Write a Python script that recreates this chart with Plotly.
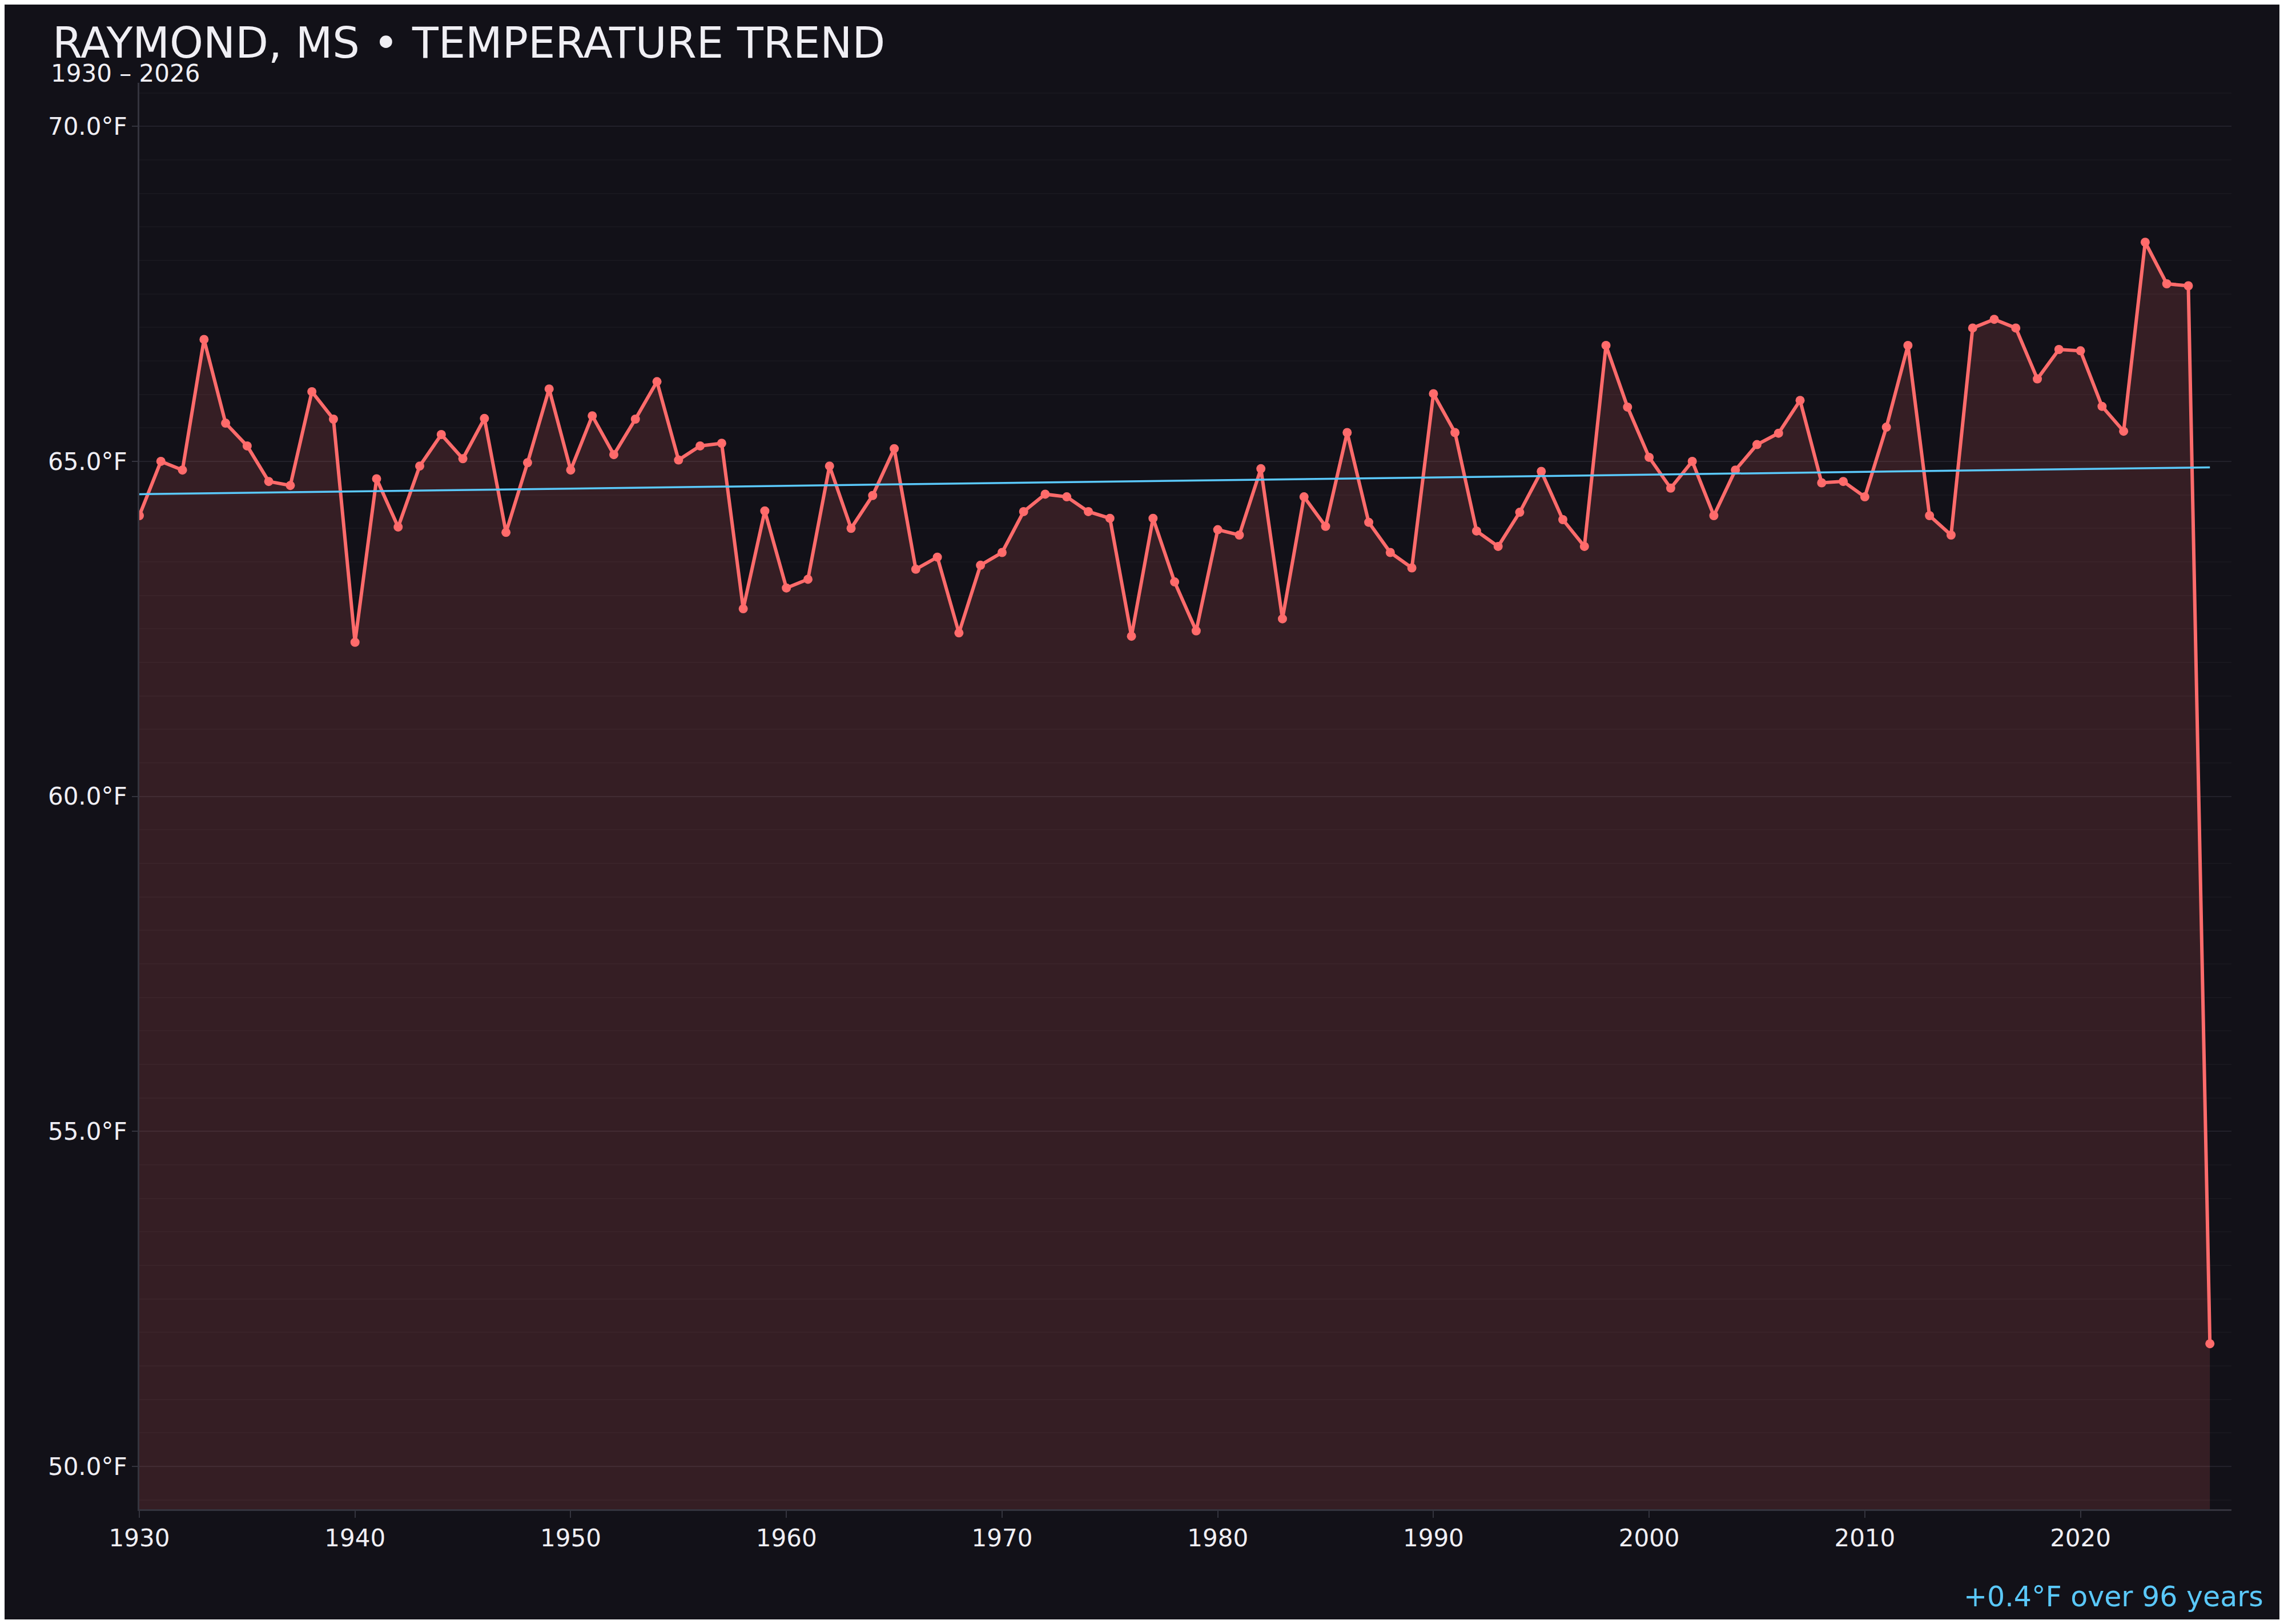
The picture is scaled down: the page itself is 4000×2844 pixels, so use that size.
import plotly.graph_objects as go

# yearly mean temperature, Raymond MS
years = list(range(1930, 2027))
avg_temp = [
    64.19, 65.00, 64.87, 66.82, 65.57, 65.23, 64.70, 64.64, 66.04, 65.63,
    62.30, 64.74, 64.02, 64.93, 65.40, 65.04, 65.64, 63.94, 64.98, 66.08,
    64.87, 65.68, 65.10, 65.63, 66.19, 65.02, 65.23, 65.27, 62.80, 64.26,
    63.11, 63.24, 64.93, 64.00, 64.49, 65.19, 63.39, 63.57, 62.44, 63.45,
    63.64, 64.25, 64.51, 64.47, 64.25, 64.15, 62.39, 64.15, 63.20, 62.47,
    63.98, 63.90, 64.89, 62.65, 64.47, 64.03, 65.43, 64.09, 63.64, 63.41,
    66.01, 65.43, 63.96, 63.73, 64.24, 64.85, 64.13, 63.73, 66.73, 65.81,
    65.06, 64.60, 65.00, 64.19, 64.87, 65.25, 65.42, 65.91, 64.68, 64.70,
    64.47, 65.51, 66.73, 64.19, 63.90, 66.99, 67.12, 66.99, 66.23, 66.67,
    66.65, 65.82, 65.45, 68.27, 67.65, 67.62, 51.83,
]

trend_years = [1930, 2026]
trend_temp = [64.51, 64.91]

y_ticks = [50, 55, 60, 65, 70]
y_labels = ['%.1f°F' % v for v in y_ticks]
x_ticks = [1930, 1940, 1950, 1960, 1970, 1980, 1990, 2000, 2010, 2020]

BG = '#121118'
FONT = 'DejaVu Sans'
TEXT = '#f0eff4'
AXIS = '#34343e'

fig = go.Figure()
fig.add_trace(go.Scatter(x=years, y=avg_temp, mode='lines+markers',
                         line=dict(color='#ff6b6b', width=6),
                         marker=dict(color='#ff6b6b', size=16),
                         fill='tozeroy', fillcolor='rgba(255,107,107,0.15)',
                         showlegend=False))
fig.add_trace(go.Scatter(x=trend_years, y=trend_temp, mode='lines',
                         line=dict(color='#5ac8fa', width=3.5),
                         showlegend=False))

# page has an 8px body margin, so the figure is 16px smaller than the window
fig.update_layout(
    width=3984,
    height=2828,
    margin=dict(l=236, r=84, t=137, b=193),
    paper_bgcolor=BG,
    plot_bgcolor=BG,
    font=dict(family=FONT, color=TEXT, size=42),
    xaxis=dict(
        range=[1930, 2027],
        tickvals=x_ticks,
        showgrid=False,
        zeroline=False,
        showline=True,
        linecolor=AXIS,
        linewidth=3,
        ticks='outside',
        ticklen=12,
        tickwidth=2,
        tickcolor=AXIS,
        tickfont=dict(family=FONT, size=42, color=TEXT),
    ),
    yaxis=dict(
        range=[49.36, 70.65],
        tickvals=y_ticks,
        ticktext=y_labels,
        showgrid=True,
        gridcolor='#22212a',
        gridwidth=2,
        zeroline=False,
        showline=True,
        linecolor=AXIS,
        linewidth=3,
        ticks='outside',
        ticklen=10,
        tickwidth=2,
        tickcolor=AXIS,
        tickfont=dict(family=FONT, size=42, color=TEXT),
        minor=dict(dtick=0.5, tick0=50, showgrid=True, gridcolor='#18171e', gridwidth=2),
    ),
    annotations=[
        dict(text='RAYMOND, MS • TEMPERATURE TREND', xref='paper', yref='paper',
             x=-0.0421, y=1.0282, xanchor='left', yanchor='middle', showarrow=False,
             font=dict(family=FONT, size=75, color=TEXT)),
        dict(text='1930 – 2026', xref='paper', yref='paper',
             x=-0.0429, y=1.0066, xanchor='left', yanchor='middle', showarrow=False,
             font=dict(family=FONT, size=42, color=TEXT)),
        dict(text='+0.4°F over 96 years', xref='paper', yref='paper',
             x=1.0159, y=-0.0615, xanchor='right', yanchor='middle', showarrow=False,
             font=dict(family=FONT, size=49, color='#5ac8fa')),
    ],
)

fig.write_html("out.html")
